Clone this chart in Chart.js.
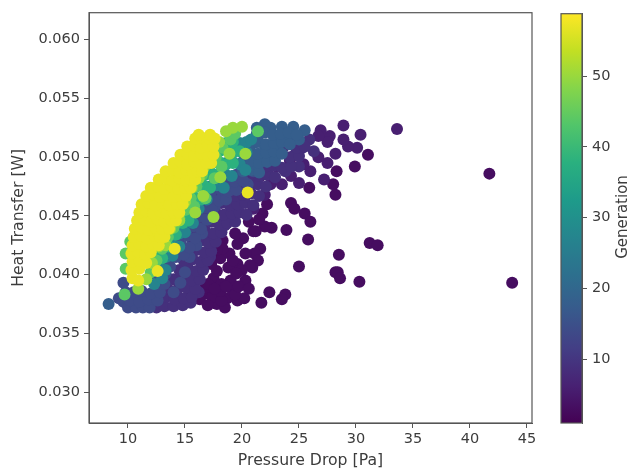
<!DOCTYPE html>
<html><head><meta charset="utf-8">
<script src="https://cdn.jsdelivr.net/npm/chart.js@4"></script>
<style>
html,body{margin:0;padding:0;background:#fff;overflow:hidden}
canvas{position:absolute;top:0;filter:blur(0.7px)}
#main{left:0}#bar{left:540px}
</style></head><body>
<canvas id="main" width="628" height="470"></canvas>
<canvas id="bar" width="88" height="470"></canvas>
<script>
const xTicks=[10,15,20,25,30,35,40,45];
const yTicks=[0.030,0.035,0.040,0.045,0.050,0.055,0.060];
const barTicks=[10,20,30,40,50];
const viridis=['#440154','#482173','#433e85','#38598c','#2d708e','#25858e','#1e9b8a','#2ab07f','#51c56a','#85d54a','#c2df23','#fde725'];

const gen3=[[41.7,.0486],[43.7,.0393],[31.05,.0502],[29.9,.0492],[28.2,.0468],[28.3,.0488],[28,.0477],[25.9,.0474],[24.3,.0461],[24.6,.0456],[25.5,.0452],[26,.0445],[23.9,.0438],[25.8,.043],[31.2,.0427],[31.9,.0425],[28.5,.0417],[25,.0407],[28.2,.0402],[28.4,.0402],[28.6,.0397],[30.3,.0394],[22.4,.0385],[21.7,.0376],[23.8,.0383],[23.5,.0379],[21.6,.0422],[21.1,.0418],[21.4,.0412],[20.9,.0406],[22.6,.044],[22,.0441],[21.2,.0437],[19.6,.0378],[18.7,.038],[17.8,.0375],[16.9,.0384],[19.2,.0386],[20.3,.0395],[19.6,.0409],[18.8,.0406],[18.1,.0414],[20.7,.0408],[17.5,.0397],[16.8,.0389],[20.1,.0431],[21.8,.0452],[22.2,.046],[21,.0437],[18.3,.0429],[18.9,.0418],[19,.0395],[18.2,.0392],[17.4,.0381],[20.2,.038],[18.5,.0372],[16.3,.0379],[15.5,.0382],[17,.0374],[18.2,.0378],[19.4,.0383],[18.1,.0386],[17.8,.0403],[19.6,.0426],[20.3,.0418],[19.4,.0435],[20.6,.0445],[21.5,.0447],[17,.0392],[17.6,.0388],[18.6,.039],[19.7,.039],[20.6,.0388],[17.3,.0409],[18.3,.0422],[19.2,.0412],[17.8,.0421],[20,.0404],[19.5,.0401]];
const gen6=[[28.9,.0527],[33.6,.0524],[30.4,.0519],[30.1,.0508],[29.3,.0509],[28.9,.0515],[28.2,.0503],[27.5,.0495],[27.7,.0518],[27.5,.0513],[26.9,.0523],[26.7,.0518],[26.7,.05],[27.2,.0481],[21,.0456],[22,.0468],[22.5,.0477],[21.6,.0484],[23.5,.0477],[24.3,.0484],[25,.0478],[26,.0488],[25.4,.0494],[23,.0492],[24.2,.0497]];
const gen9=[[12.5,.0372],[13.2,.0373],[14,.0373],[14.8,.0374],[15.5,.0376],[16.2,.0385],[15.8,.0398],[16.5,.0405],[17.2,.0415],[17,.0428],[17.8,.0435],[18.5,.0442],[19.2,.0447],[22.2,.0488],[22.8,.05],[23.6,.0508],[24.5,.0514],[25.3,.0508],[25.9,.0515],[26.3,.0505],[24.7,.0503],[23.8,.0488],[25,.0492],
[12.5,.038],[13.3,.0381],[14.1,.0379],[14.9,.038],[15.6,.0381],[13.5,.0388],[14.3,.0387],[15.1,.0389],[15.9,.0388],[14,.0396],[14.8,.0397],[15.6,.0395],[16.3,.0396],[14.5,.0404],[15.3,.0405],[16,.0403],[16.6,.0404],[14.9,.0412],[15.7,.0413],[16.4,.0411],[17,.0412],[15.2,.042],[16,.0421],[16.7,.0419],[17.3,.042],[15.7,.0428],[16.4,.0429],[17.1,.0427],[17.7,.0428],[16.1,.0436],[16.8,.0437],[17.5,.0435],[18.2,.0436],[16.6,.0444],[17.3,.0445],[18,.0443],[18.7,.0444],[19.4,.0445],[17,.0452],[17.7,.0453],[18.4,.0451],[19.1,.0452],[19.8,.0453],[20.4,.0451],[17.5,.046],[18.2,.0461],[18.9,.0459],[19.6,.046],[20.3,.0461],[21,.0459],[18,.0468],[18.7,.0469],[19.4,.0467],[20.1,.0468],[20.8,.0469],[21.5,.0467],[18.6,.0476],[19.3,.0477],[20,.0475],[20.7,.0476],[21.4,.0477],[22.1,.0475],[19.4,.0484],[20.1,.0485],[20.8,.0483],[21.5,.0484],[22.2,.0485],[22.9,.0483],[20.7,.0492],[21.4,.0491],[22.1,.0492],[22.8,.0493],[23.5,.0491],[24.3,.0492],[24.2,.05],[25,.0501],[24.8,.0508],[25.5,.0509]];
const gen14=[[9.6,.0377],[9.2,.038],[10,.0372],[10.7,.0372],[11.3,.0372],[11.9,.0372],[9.8,.0385],[9.6,.0393],[11,.038],[14,.0385],[14.6,.0393],[15,.0402],[15.4,.0415],[16,.0425],[16.5,.0435],[17,.0447],[17.6,.0458],[18.2,.0465],[18.8,.0475],[19.5,.0485],[20,.0495],[20.5,.0477],[21,.0488],
[10.2,.0378],[11,.0377],[11.8,.0379],[12.6,.0378],[10.5,.0385],[11.2,.0386],[12,.0384],[12.8,.0385],[13.2,.0392],[12.4,.0393],[12.6,.04],[13.3,.0401],[13,.0408],[13.7,.0407],[13.5,.0416],[14.2,.0415],[14.9,.0417],[14,.0424],[14.7,.0425],[15.4,.0423],[14.5,.0432],[15.2,.0433],[15.9,.0431],[15,.044],[15.7,.0441],[16.4,.0439],[15.5,.0448],[16.2,.0449],[16.9,.0447],[16,.0456],[16.7,.0457],[17.4,.0455],[16.6,.0464],[17.3,.0465],[18,.0463],[18.6,.0464],[17.4,.0472],[18.1,.0473],[18.8,.0471],[19.5,.0472],[18,.048],[18.7,.0481],[19.4,.0479],[20.1,.048]];
const gen18=[[8.3,.0375],[20.5,.0503],[21,.0512],[21.6,.052],[22.5,.0525],[23.5,.0526],[24.5,.0526],[23,.0515],[24,.0518],[22,.051],[22.5,.05],[21.5,.0498],[23.2,.0505],[25,.0515],[25.5,.0523],[22,.0528],[21.3,.0525],
[20.1,.0488],[20.8,.0489],[21.5,.0487],[20.1,.0496],[20.8,.0497],[21.5,.0495],[22.2,.0496],[22.9,.0497],[20,.0504],[20.7,.0505],[21.4,.0503],[22.1,.0504],[22.8,.0505],[23.5,.0503],[20.7,.0512],[21.4,.0513],[22.1,.0511],[22.8,.0512],[23.5,.0513],[24.2,.0511],[21.3,.052],[22,.0521],[22.7,.0519],[23.4,.052],[24.1,.0521],[24.8,.0519]];
const gen27=[[12.3,.0392],[13,.0397],[12.8,.0405],[13.3,.0404],[13.3,.0415],[13.9,.0416],[13.9,.0425],[14.5,.0424],[14.5,.0435],[15,.0436],[15.1,.0445],[15.7,.0444],[15.6,.0455],[16.2,.0456],[16.3,.0465],[16.9,.0464],[17.2,.0475],[17.8,.0476],[18.4,.0474],[17.9,.0485],[18.5,.0486],[19.1,.0484],[18.6,.0495],[19.2,.0496],[19.8,.0494],[19.2,.0505],[19.8,.0506],[20.4,.0504],[19.8,.0512],[20.4,.0513],[20.8,.0515],[20.3,.0489]];
const gen38=[[12.2,.0405],[12.6,.0415],[13,.0414],[13.1,.0425],[13.6,.0424],[13.7,.0435],[14.2,.0434],[14.3,.0445],[14.8,.0444],[15.3,.0446],[14.8,.0455],[15.3,.0456],[15.8,.0454],[15.3,.0465],[15.8,.0466],[16.4,.0464],[16,.0475],[16.6,.0476],[17.2,.0474],[16.8,.0485],[17.4,.0486],[18,.0484],[17.4,.0495],[18,.0496],[18.6,.0494],[19.2,.0495],[18,.0505],[18.6,.0506],[19.2,.0504],[19.8,.0505],[18.6,.0512],[19.2,.0513]];
const gen44=[[12,.0402],[12.5,.0412],[13,.0422],[13.5,.0432],[14,.044],[14.5,.0448],[15,.0455],[15.5,.0465],[16,.0475],[16.5,.0485],[17,.0495],[17.7,.05],[18.3,.0508],[19,.0515],[19.4,.052],[15.8,.0458],[16.8,.0465],[9.8,.0405],[9.8,.0418],[10.2,.0428],[10.7,.0438],[11.2,.0451],[9.7,.0383],[21.4,.0522],[17.6,.0482],[18.2,.0492]];
const gen50=[[10.9,.0388],[11.6,.0396],[12.1,.041],[12.7,.0424],[13.3,.0425],[13.7,.0439],[14.5,.0446],[15,.0462],[15.6,.0474],[16.2,.0482],[16.7,.0492],[17.4,.0503],[18,.0513],[19.2,.0525],[20,.0526],[18.6,.0522],[15.9,.0453],[17.5,.0449],[16.6,.0467],[18.9,.0503],[20.3,.0503],[18.1,.0483]];
const gen57=[[10.4,.0397],[10.9,.0395],[10.3,.0404],[11,.0405],[10.4,.0411],[11,.0412],[11.6,.041],[10.3,.0418],[10.9,.0419],[11.5,.0417],[12,.0419],[10.4,.0425],[11,.0426],[11.6,.0424],[12.2,.0426],[12.7,.0425],[10.5,.0432],[11.1,.0433],[11.7,.0431],[12.3,.0433],[12.8,.0432],[13.2,.0432],[10.6,.0439],[11.2,.044],[11.8,.0438],[12.4,.044],[13,.0439],[13.6,.0439],[10.8,.0446],[11.4,.0447],[12,.0445],[12.6,.0447],[13.2,.0445],[13.8,.0446],[14.2,.0446],[11,.0453],[11.6,.0454],[12.2,.0452],[12.8,.0454],[13.4,.0452],[14,.0453],[14.5,.0453],[11.2,.046],[11.8,.0461],[12.4,.0459],[13,.0461],[13.6,.0459],[14.3,.046],[14.8,.046],[11.6,.0467],[12.2,.0468],[12.8,.0466],[13.4,.0468],[14,.0466],[14.6,.0467],[15.1,.0467],[12,.0474],[12.6,.0475],[13.2,.0473],[13.8,.0475],[14.4,.0473],[15,.0474],[15.5,.0474],[12.7,.0481],[13.3,.0482],[13.9,.048],[14.5,.0482],[15.1,.048],[15.5,.0481],[15.9,.0481],[13.3,.0488],[13.9,.0489],[14.5,.0487],[15.1,.0489],[15.7,.0487],[16.1,.0488],[16.5,.0488],[14,.0495],[14.6,.0496],[15.2,.0494],[15.8,.0496],[16.4,.0494],[16.9,.0495],[17.3,.0495],[14.6,.0502],[15.2,.0503],[15.8,.0501],[16.4,.0503],[17,.0501],[17.5,.0502],[15.2,.0509],[15.8,.051],[16.4,.0508],[17,.051],[17.5,.0509],[15.9,.0516],[16.4,.0517],[17.1,.0516],[17.6,.0516],[16.2,.0519],[17.2,.0519],[12.6,.0403],[14.1,.0422],[20.5,.047]];

const bands=[[3,gen3],[6,gen6],[9,gen9],[14,gen14],[18,gen18],[27,gen27],[38,gen38],[44,gen44],[50,gen50],[57,gen57]];

function mix(a,b,t){const p=s=>[1,3,5].map(i=>parseInt(s.substr(i,2),16));const A=p(a),B=p(b);
  return 'rgb('+A.map((v,i)=>Math.round(v+(B[i]-v)*t)).join(',')+')';}
function colorOf(g){const f=(g-1)/(58.8-1)*(viridis.length-1);const i=Math.min(Math.floor(f),viridis.length-2);return mix(viridis[i],viridis[i+1],f-i);}

const FONT='"DejaVu Sans"', TXT='#3c3c3c', EDGE='#555';
const frame={id:'frame',afterDraw(c){const a=c.chartArea,x=c.ctx;x.save();x.strokeStyle=EDGE;x.lineWidth=1.2;
  x.strokeRect(a.left,a.top,a.right-a.left,a.bottom-a.top);x.restore();}};
const genTitle={id:'genTitle',afterDraw(c){const x=c.ctx;x.save();x.translate(83,217);x.rotate(-Math.PI/2);
  x.fillStyle=TXT;x.font='15px '+FONT;x.textAlign='center';x.textBaseline='middle';x.fillText('Generation',0,0);x.restore();}};

new Chart(document.getElementById('main'),{
  type:'scatter',
  data:{datasets:bands.map(([g,pts])=>({label:'Generation '+g,order:60-g,
    data:pts.map(p=>({x:p[0],y:p[1]})),backgroundColor:colorOf(g),borderWidth:0,pointRadius:6,pointHoverRadius:6}))},
  options:{responsive:false,animation:false,
    layout:{padding:{top:11,right:96,left:0,bottom:0}},
    plugins:{legend:{display:false},tooltip:{enabled:false}},
    scales:{
      x:{type:'linear',min:6.58,max:45.44,
        afterBuildTicks:s=>{s.ticks=xTicks.map(v=>({value:v}))},
        afterFit:s=>{s.height=47},
        grid:{drawOnChartArea:false,tickLength:5,color:EDGE},border:{color:EDGE},
        ticks:{color:TXT,font:{family:FONT,size:14.5},maxRotation:0,padding:3,callback:v=>String(v)},
        title:{display:true,text:'Pressure Drop [Pa]',color:TXT,font:{family:FONT,size:15.7},padding:{top:1,bottom:0}}},
      y:{type:'linear',min:0.02737,max:0.0623,
        afterBuildTicks:s=>{s.ticks=yTicks.map(v=>({value:v}))},
        afterFit:s=>{s.width=89},
        grid:{drawOnChartArea:false,tickLength:5,color:EDGE},border:{color:EDGE},
        ticks:{color:TXT,font:{family:FONT,size:14.5},padding:4,callback:v=>v.toFixed(3)},
        title:{display:true,text:'Heat Transfer [W]',color:TXT,font:{family:FONT,size:15.7},padding:{top:10,bottom:2}}}
    }},
  plugins:[frame]
});

new Chart(document.getElementById('bar'),{
  type:'bar',
  data:{labels:['Generation'],datasets:[{data:[[1,58.8]],barPercentage:1,categoryPercentage:1,borderWidth:0,
    backgroundColor(ctx){const a=ctx.chart.chartArea;if(!a)return viridis[0];
      const g=ctx.chart.ctx.createLinearGradient(0,a.bottom,0,a.top);
      viridis.forEach((c,i)=>g.addColorStop(i/(viridis.length-1),c));return g;}}]},
  options:{responsive:false,animation:false,
    layout:{padding:{top:11,left:21,right:0,bottom:47}},
    plugins:{legend:{display:false},tooltip:{enabled:false}},
    scales:{
      x:{display:false},
      y:{position:'right',min:1,max:58.8,
        afterBuildTicks:s=>{s.ticks=barTicks.map(v=>({value:v}))},
        afterFit:s=>{s.width=46},
        grid:{drawOnChartArea:false,tickLength:5,color:EDGE},border:{color:EDGE},
        ticks:{color:TXT,font:{family:FONT,size:14.5},padding:5}}
    }},
  plugins:[frame,genTitle]
});
</script></body></html>
